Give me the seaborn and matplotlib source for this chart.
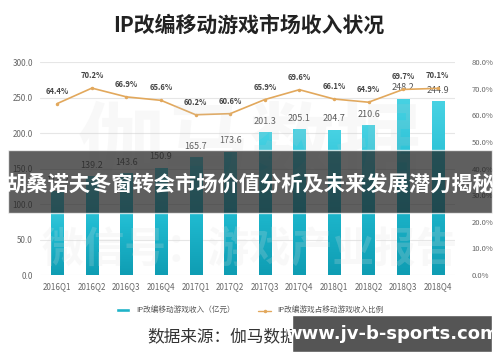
import numpy as np
import pandas as pd
import matplotlib
matplotlib.use("Agg")
import matplotlib.pyplot as plt
import seaborn as sns
from matplotlib.lines import Line2D
from matplotlib.patches import Patch, Rectangle

quarters = ["2016Q1", "2016Q2", "2016Q3", "2016Q4", "2017Q1", "2017Q2",
            "2017Q3", "2017Q4", "2018Q1", "2018Q2", "2018Q3", "2018Q4"]
revenue = [118.2, 139.2, 143.6, 150.9, 165.7, 173.6,
           201.3, 205.1, 204.7, 210.6, 248.2, 244.9]
share = [64.4, 70.2, 66.9, 65.6, 60.2, 60.6,
         65.9, 69.6, 66.1, 64.9, 69.7, 70.1]
left_ticks = [0, 50, 100, 150, 200, 250, 300]
right_ticks = [0, 10, 20, 30, 40, 50, 60, 70, 80]

df = pd.DataFrame({"quarter": quarters, "revenue": revenue, "share": share})

sns.set_style("white")
plt.rcParams["font.family"] = ["Noto Sans CJK SC", "DejaVu Sans"]

fig = plt.figure(figsize=(5, 3.62), dpi=100)
ax = fig.add_axes([0.08, 0.2403, 0.83, 0.5884])

sns.barplot(data=df, x="quarter", y="revenue", color="#1fb3c8",
            width=0.35, ax=ax, zorder=2)

# vertical gradient on bars (light cyan top -> teal bottom)
grad = np.linspace(1, 0, 100).reshape(-1, 1)
cmap = matplotlib.colors.LinearSegmentedColormap.from_list(
    "bar", ["#0f9db3", "#1fbad0", "#47d2e3"])
for p in list(ax.patches):
    x0, y0 = p.get_x(), p.get_y()
    w, h = p.get_width(), p.get_height()
    im = ax.imshow(grad, cmap=cmap, aspect="auto", zorder=2.1,
                   extent=[x0, x0 + w, y0, y0 + h], origin="upper")
    im.set_clip_path(p)

for i, v in enumerate(revenue):
    ax.text(i, v + 9, f"{v:.1f}", ha="center", va="bottom",
            fontsize=6.5, color="#555555", zorder=5)

ax.set_xlim(-0.5, len(quarters) - 0.5)
ax.set_ylim(0, 300)
ax.set_yticks(left_ticks)
ax.set_yticklabels([f"{t:.1f}" for t in left_ticks])
ax.set_xlabel("")
ax.set_ylabel("")
ax.yaxis.grid(True, color="#e6e6e6", linewidth=0.8, zorder=0)
ax.set_axisbelow(True)
ax.tick_params(axis="both", labelsize=5.8, colors="#666666", length=0, pad=5)
for s in ax.spines.values():
    s.set_visible(False)

ax2 = ax.twinx()
sns.lineplot(x=quarters, y=share, ax=ax2, color="#e2a85c", linewidth=1.2,
             marker="o", markersize=2.5, markeredgewidth=0, sort=False)
for i, v in enumerate(share):
    ax2.text(i, v + 3, f"{v:.1f}%", ha="center", va="bottom",
             fontsize=5.5, fontweight="bold", color="#444444")
ax2.set_ylim(0, 80)
ax2.set_yticks(right_ticks)
ax2.set_yticklabels([f"{t:.1f}%" for t in right_ticks])
ax2.tick_params(axis="y", labelsize=5.5, colors="#666666", length=0, pad=12)
for s in ax2.spines.values():
    s.set_visible(False)

fig.text(0.497, 0.93, "IP改编移动游戏市场收入状况", ha="center", va="center",
         fontsize=15, fontweight="bold", color="#222222")

handles = [Patch(facecolor="#1fb3c8", label="IP改编移动游戏收入（亿元）"),
           Line2D([0], [0], color="#e2a85c", marker="o", markersize=1.5,
                  linewidth=1, label="IP改编游戏占移动游戏收入比例")]
fig.legend(handles=handles, loc="center", bbox_to_anchor=(0.5, 0.141),
           ncol=2, frameon=False, fontsize=5.5, handlelength=1.8,
           handleheight=0.4, columnspacing=3, labelcolor="#555555")

fig.text(0.294, 0.069, "数据来源：伽马数据（CNG）", ha="left", va="center",
         fontsize=12, color="#333333")

# faint watermark
fig.text(0.5, 0.59, "伽马数据", ha="center", va="center", fontsize=62,
         fontweight="bold", color="#cccccc", alpha=0.13, zorder=6)
fig.text(0.5, 0.31, "微信号：游戏产业报告", ha="center", va="center",
         fontsize=30, fontweight="bold", color="#e0e0e0", alpha=0.2, zorder=6)

# overlay banner
fig.patches.append(Rectangle((8 / 500, 1 - 213 / 362), 484 / 500, 63 / 362,
                             transform=fig.transFigure, facecolor="#222222",
                             alpha=0.72, zorder=10))
fig.text(0.5, 1 - 184 / 362, "胡桑诺夫冬窗转会市场价值分析及未来发展潜力揭秘",
         ha="center", va="center", fontsize=15.3, fontweight="bold",
         color="white", zorder=11)

fig.patches.append(Rectangle((292 / 500, 1 - 352 / 362), 200 / 500, 37 / 362,
                             transform=fig.transFigure, facecolor="#555555",
                             zorder=10))
fig.text(392 / 500, 1 - 334 / 362, "www.jv-b-sports.com", ha="center",
         va="center", fontsize=13, fontweight="bold", color="white",
         family=["DejaVu Sans"], zorder=11)

fig.savefig("out.png", dpi=100)
